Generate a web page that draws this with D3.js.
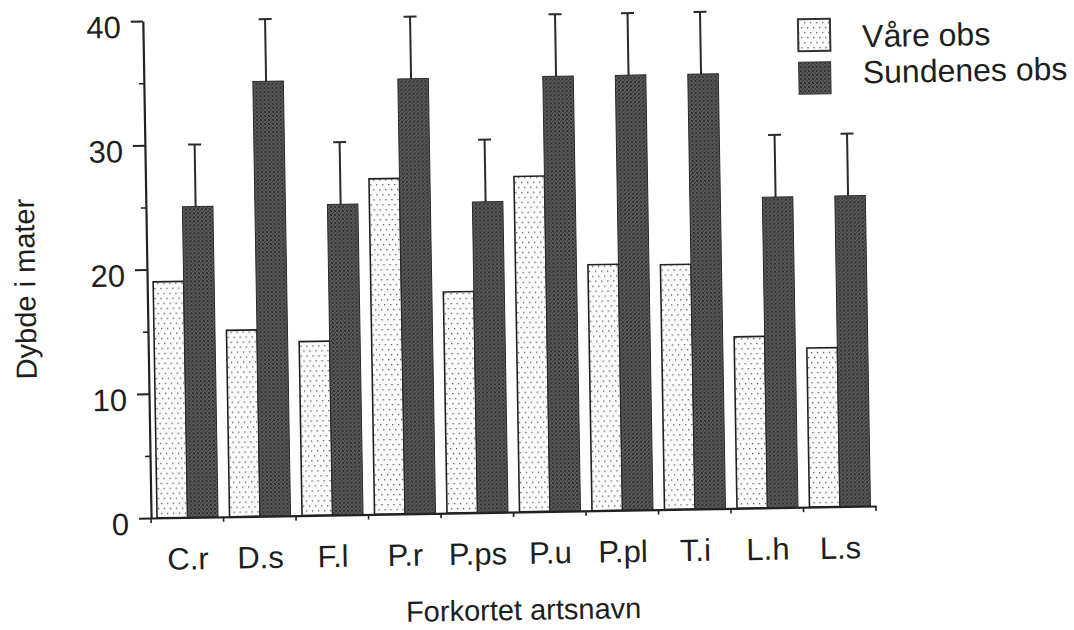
<!DOCTYPE html>
<html>
<head>
<meta charset="utf-8">
<script src="https://cdn.jsdelivr.net/npm/d3@7"></script>
<style>
  html, body { margin: 0; padding: 0; background: #fff; }
  svg { display: block; }
  text { font-family: "Liberation Sans", Arial, Helvetica, sans-serif; fill: #1e1e1e; }
</style>
</head>
<body>
<svg id="chart" width="1074" height="630"></svg>
<script>
// ---- data ----
const categories = ["C.r", "D.s", "F.l", "P.r", "P.ps", "P.u", "P.pl", "T.i", "L.h", "L.s"];
const vareObs = [19.0, 15.0, 14.0, 27.0, 17.8, 27.0, 19.8, 19.7, 13.8, 12.8];
const sundenesObs = [25, 35, 25, 35, 25, 35, 35, 35, 25, 25];
const sundenesErr = [5, 5, 5, 5, 5, 5, 5, 5, 5, 5];
const seriesNames = ["Våre obs", "Sundenes obs"];
const yTicks = [0, 10, 20, 30, 40];
const yMinorTicks = [5, 15, 25, 35];
const xTitle = "Forkortet artsnavn";
const yTitle = "Dybde i mater";

const svg = d3.select("#chart");
const defs = svg.append("defs");

// dotted pattern (light bars)
const pDots = defs.append("pattern").attr("id", "dots")
  .attr("patternUnits", "userSpaceOnUse").attr("width", 6).attr("height", 10);
pDots.append("rect").attr("width", 6).attr("height", 10).attr("fill", "#fbfbfb");
pDots.append("rect").attr("x", 1).attr("y", 2).attr("width", 1.3).attr("height", 1.3).attr("fill", "#555");
pDots.append("rect").attr("x", 4).attr("y", 7).attr("width", 1.3).attr("height", 1.3).attr("fill", "#555");

// dark textured pattern
const pDark = defs.append("pattern").attr("id", "dark")
  .attr("patternUnits", "userSpaceOnUse").attr("width", 4).attr("height", 4);
pDark.append("rect").attr("width", 4).attr("height", 4).attr("fill", "#5c5c5c");
pDark.append("rect").attr("x", 0).attr("y", 0).attr("width", 1).attr("height", 1).attr("fill", "#262626");
pDark.append("rect").attr("x", 2).attr("y", 1).attr("width", 1).attr("height", 1).attr("fill", "#2e2e2e");
pDark.append("rect").attr("x", 1).attr("y", 2).attr("width", 1).attr("height", 1).attr("fill", "#303030");
pDark.append("rect").attr("x", 3).attr("y", 3).attr("width", 1).attr("height", 1).attr("fill", "#282828");
pDark.append("rect").attr("x", 3).attr("y", 0).attr("width", 1).attr("height", 1).attr("fill", "#3a3a3a");
pDark.append("rect").attr("x", 0).attr("y", 3).attr("width", 1).attr("height", 1).attr("fill", "#3a3a3a");

// whole scanned page is slightly rotated
const g = svg.append("g").attr("transform", "rotate(-0.95, 512, 270)");

const x0 = 147, x1 = 872, yBase = 512, yTop = 15;
const x = d3.scaleBand().domain(categories).range([x0, x1]).paddingInner(0).paddingOuter(0);
const xSub = d3.scaleBand().domain(seriesNames).range([6, 67]).paddingInner(0);
const y = d3.scaleLinear().domain([0, 40]).range([yBase, yTop]);

const fills = ["url(#dots)", "url(#dark)"];

// bars
const groups = g.append("g").selectAll("g").data(categories).join("g")
  .attr("transform", d => `translate(${x(d)},0)`);

groups.append("rect")
  .attr("x", xSub(seriesNames[0]))
  .attr("y", (d, i) => y(vareObs[i]))
  .attr("width", xSub.bandwidth())
  .attr("height", (d, i) => y(0) - y(vareObs[i]))
  .attr("fill", fills[0]).attr("stroke", "#222").attr("stroke-width", 1.6);

groups.append("rect")
  .attr("x", xSub(seriesNames[1]))
  .attr("y", (d, i) => y(sundenesObs[i]))
  .attr("width", xSub.bandwidth())
  .attr("height", (d, i) => y(0) - y(sundenesObs[i]))
  .attr("fill", fills[1]).attr("stroke", "#2a2a2a").attr("stroke-width", 1);

// error bars
const ex = xSub(seriesNames[1]) + xSub.bandwidth() / 2 - 2;
groups.append("line")
  .attr("x1", ex).attr("x2", ex)
  .attr("y1", (d, i) => y(sundenesObs[i]))
  .attr("y2", (d, i) => y(sundenesObs[i] + sundenesErr[i]))
  .attr("stroke", "#2a2a2a").attr("stroke-width", 2);
groups.append("line")
  .attr("x1", ex - 6.5).attr("x2", ex + 6.5)
  .attr("y1", (d, i) => y(sundenesObs[i] + sundenesErr[i]))
  .attr("y2", (d, i) => y(sundenesObs[i] + sundenesErr[i]))
  .attr("stroke", "#2a2a2a").attr("stroke-width", 2);

// y axis
const yAxis = g.append("g").attr("transform", `translate(${x0},0)`)
  .call(d3.axisLeft(y).tickValues(yTicks).tickSize(12).tickSizeOuter(0).tickPadding(10));
yAxis.select(".domain").attr("stroke", "#222").attr("stroke-width", 2.2);
yAxis.selectAll(".tick line").attr("stroke", "#222").attr("stroke-width", 2);
yAxis.selectAll(".tick text")
  .attr("x", -22).attr("dy", null).attr("y", 16)
  .style("font-size", "31px").style("font-family", "'Liberation Sans', Arial, sans-serif").attr("fill", "#1e1e1e");

const yMinor = g.append("g").attr("transform", `translate(${x0},0)`)
  .call(d3.axisLeft(y).tickValues(yMinorTicks).tickSize(5).tickFormat(""));
yMinor.select(".domain").remove();
yMinor.selectAll(".tick line").attr("stroke", "#222").attr("stroke-width", 1.6);

// x axis
const xAxis = g.append("g").attr("transform", `translate(0,${yBase})`)
  .call(d3.axisBottom(x).tickSize(0).tickSizeOuter(0).tickPadding(0));
xAxis.select(".domain").attr("stroke", "#222").attr("stroke-width", 2.2);
xAxis.selectAll(".tick text")
  .attr("dy", null).attr("y", 52)
  .style("font-size", "31px").style("font-family", "'Liberation Sans', Arial, sans-serif").attr("fill", "#1e1e1e");

// boundary ticks on x axis
const boundaries = categories.map(c => x(c)).concat([x1]);
g.append("g").selectAll("line").data(boundaries).join("line")
  .attr("x1", d => d).attr("x2", d => d)
  .attr("y1", yBase).attr("y2", yBase + 5)
  .attr("stroke", "#222").attr("stroke-width", 1.6);

// axis titles
g.append("text").attr("x", 518).attr("y", 620)
  .attr("text-anchor", "middle").style("font-size", "29px").text(xTitle);
g.append("text").attr("transform", `translate(35,281) rotate(-90)`)
  .attr("text-anchor", "middle").style("font-size", "29px").text(yTitle);

// legend
const legend = g.append("g");
const legY = [24, 67];
const legTextY = [53, 89];
legend.selectAll("rect").data(seriesNames).join("rect")
  .attr("x", 802).attr("y", (d, i) => legY[i])
  .attr("width", 32).attr("height", 32)
  .attr("fill", (d, i) => fills[i])
  .attr("stroke", "#333").attr("stroke-width", (d, i) => i === 0 ? 2 : 1);
legend.selectAll("text").data(seriesNames).join("text")
  .attr("x", 866).attr("y", (d, i) => legTextY[i])
  .style("font-size", "32px").text(d => d);
</script>
</body>
</html>
